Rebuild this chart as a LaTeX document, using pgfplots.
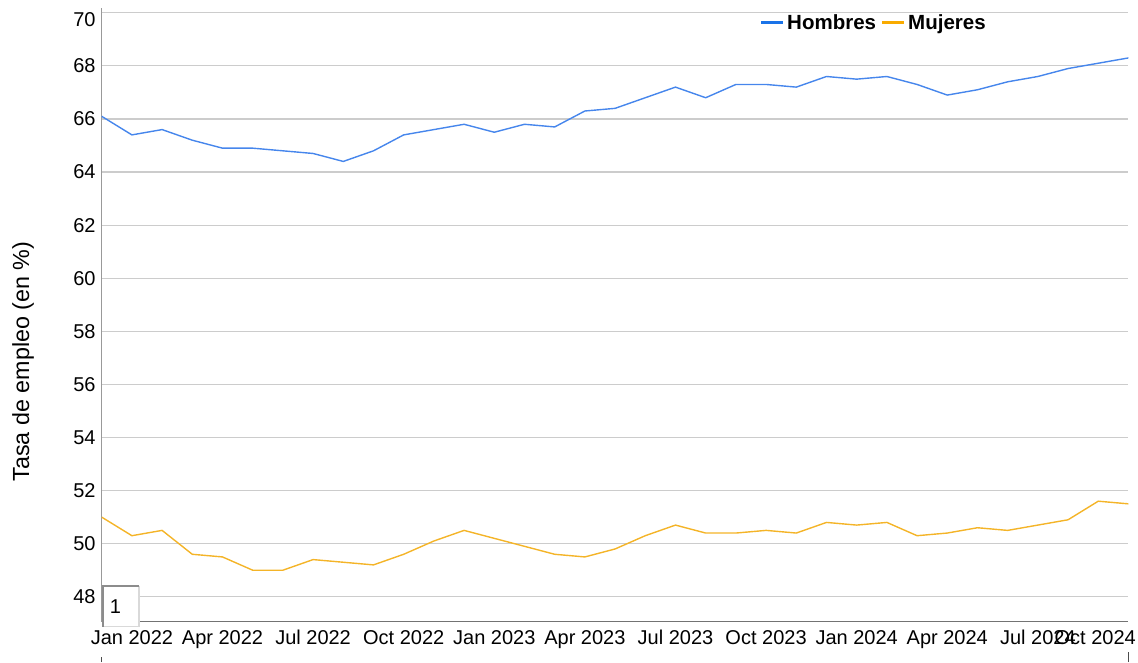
\documentclass[border=0pt]{standalone}
\usepackage{fontspec}
\setmainfont{Liberation Sans}
\usepackage{pgfplots}
\pgfplotsset{compat=1.18}
\definecolor{hblue}{RGB}{70,134,236}
\definecolor{morange}{RGB}{244,180,40}
\definecolor{legblue}{RGB}{26,115,232}
\definecolor{legorange}{RGB}{249,171,0}
\definecolor{gridgray}{RGB}{204,204,204}

\pgfplotstableread{
idx hombres mujeres
0  66.1 51.0
1  65.4 50.3
2  65.6 50.5
3  65.2 49.6
4  64.9 49.5
5  64.9 49.0
6  64.8 49.0
7  64.7 49.4
8  64.4 49.3
9  64.8 49.2
10 65.4 49.6
11 65.6 50.1
12 65.8 50.5
13 65.5 50.2
14 65.8 49.9
15 65.7 49.6
16 66.3 49.5
17 66.4 49.8
18 66.8 50.3
19 67.2 50.7
20 66.8 50.4
21 67.3 50.4
22 67.3 50.5
23 67.2 50.4
24 67.6 50.8
25 67.5 50.7
26 67.6 50.8
27 67.3 50.3
28 66.9 50.4
29 67.1 50.6
30 67.4 50.5
31 67.6 50.7
32 67.9 50.9
33 68.1 51.6
34 68.3 51.5
}\datatable

\begin{document}
\begin{tikzpicture}[x=1pt,y=1pt]
\path[use as bounding box] (0,0) rectangle (1138,662);
\begin{axis}[
  at={(101.7pt,40.3pt)}, anchor=south west,
  scale only axis, width=1026.8pt, height=613.6pt,
  xmin=0, xmax=34, ymin=47.06, ymax=70.177,
  axis x line=bottom, axis y line=left,
  x axis line style={-, draw=black!55, line width=1.3pt},
  y axis line style={-, draw=black!40, line width=1.3pt},
  ytick={48,50,...,68},
  extra y ticks={70},
  extra y tick style={yticklabel style={yshift=-7pt}, grid=major},
  ymajorgrids,
  major grid style={draw=gridgray, line width=1.2pt},
  xtick={1,4,7,10,13,16,19,22,25,28,31,32.9},
  xticklabels={Jan 2022,Apr 2022,Jul 2022,Oct 2022,Jan 2023,Apr 2023,Jul 2023,Oct 2023,Jan 2024,Apr 2024,Jul 2024,Oct 2024},
  major tick length=0pt,
  tick style={draw=none},
  tick label style={font=\fontsize{20}{23}\selectfont},
  /pgf/number format/assume math mode=true,
  yticklabel style={inner sep=0pt, xshift=-6pt},
  xticklabel style={yshift=-5pt},
]
\addplot[hblue, line width=1.4pt, mark=none] table[x=idx, y=hombres] {\datatable};
\addplot[morange, line width=1.4pt, mark=none] table[x=idx, y=mujeres] {\datatable};
\end{axis}
% legend
\draw[legblue, line width=3pt] (761,639.4) -- (783,639.4);
\node[anchor=base west, inner sep=0pt, font=\bfseries\fontsize{20.5}{24}\selectfont] at (787,632.4) {Hombres};
\draw[legorange, line width=3pt] (882,639.4) -- (904,639.4);
\node[anchor=base west, inner sep=0pt, font=\bfseries\fontsize{20.5}{24}\selectfont] at (908,632.4) {Mujeres};
% y label
\node[rotate=90, font=\fontsize{23.3}{26}\selectfont, inner sep=0pt] at (23,300.5) {Tasa de empleo (en \%)};
% small box
\fill[white] (102.5,35.3) rectangle (139,76.3);
\draw[black!15, line width=1.5pt] (102.5,35.3) -- (139,35.3) -- (139,76.3);
\draw[black!45, line width=2pt] (102.5,35.3) -- (102.5,76.3) -- (139,76.3);
\node[font=\fontsize{20}{24}\selectfont, inner sep=0pt] at (115.5,55) {1};
% small marks at bottom
\draw[black!70, line width=1pt] (101.7,0) -- (101.7,5.3);
\draw[black!70, line width=1pt] (1128,0) -- (1128,10);
\end{tikzpicture}
\end{document}
